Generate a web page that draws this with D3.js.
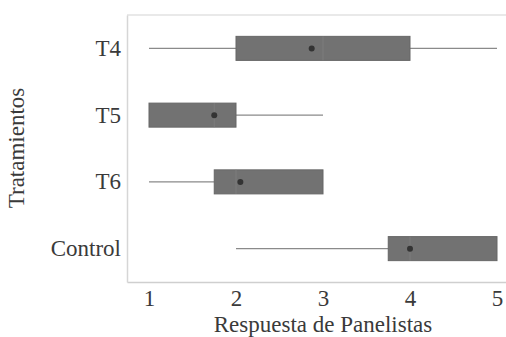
<!DOCTYPE html>
<html>
<head>
<meta charset="utf-8">
<script src="https://cdn.jsdelivr.net/npm/d3@7"></script>
</head>
<body style="margin:0">
<svg id="chart" width="506" height="337"></svg>
<script>
// Panel response per treatment (scale 1 to 5)
const categories = ["T4", "T5", "T6", "Control"];
const whiskerLow  = [1,    1,    1,    2];
const q1          = [2,    1,    1.75, 3.75];
const median      = [3,    1.75, 2,    4];
const q3          = [4,    2,    3,    5];
const whiskerHigh = [5,    3,    3,    5];
const means       = [2.87, 1.75, 2.05, 4];
const xTicks      = [1, 2, 3, 4, 5];

const data = categories.map((c, i) => ({
  cat: c, lo: whiskerLow[i], q1: q1[i], med: median[i], q3: q3[i], hi: whiskerHigh[i], mean: means[i]
}));

const TEXT = "#3a3a3a";
const W = 506;

const svg = d3.select("#chart");

// serif labels, set on each text node
function serif(sel) {
  sel.each(function () {
    this.setAttribute("font-family", "Liberation Serif");
    this.style.setProperty("font-family", "'Liberation Serif', 'Times New Roman', serif", "important");
    this.style.setProperty("font-size", "23px", "important");
    this.setAttribute("fill", TEXT);
  });
}

// 1 sits at x=149, 5 at x=497
const x = d3.scaleLinear().domain([1 - 22 / 87, 5 + 9 / 87]).range([127, 506]);
const y = d3.scaleBand().domain(categories).range([15, 282]).paddingInner(0.64).paddingOuter(0.32);

// light frame top line
svg.append("line").attr("x1", 127).attr("x2", W).attr("y1", 15).attr("y2", 15)
  .attr("stroke", "#e2e2e2").attr("stroke-width", 1.5);

const xAxis = svg.append("g").attr("transform", "translate(0,282)")
  .call(d3.axisBottom(x).tickValues(xTicks).tickFormat(d3.format("d")).tickSize(0).tickPadding(8));
xAxis.attr("font-family", null).attr("font-size", null);
xAxis.select(".domain").attr("stroke", "#cfcfcf").attr("stroke-width", 1.5);
serif(xAxis.selectAll("text"));

const yAxis = svg.append("g").attr("transform", "translate(127,0)")
  .call(d3.axisLeft(y).tickSize(0).tickPadding(6));
yAxis.attr("font-family", null).attr("font-size", null);
yAxis.select(".domain").attr("stroke", "#d6d6d6").attr("stroke-width", 1.5);
serif(yAxis.selectAll("text"));

const rows = svg.append("g").selectAll("g").data(data).join("g")
  .attr("transform", d => `translate(0,${y(d.cat) + y.bandwidth() / 2})`);

// whiskers
rows.append("line")
  .attr("x1", d => x(d.lo)).attr("x2", d => x(d.q1))
  .attr("stroke", "#8a8a8a").attr("stroke-width", 1.3);
rows.append("line")
  .attr("x1", d => x(d.q3)).attr("x2", d => x(d.hi))
  .attr("stroke", "#8a8a8a").attr("stroke-width", 1.3);

// boxes
rows.append("rect")
  .attr("x", d => x(d.q1)).attr("width", d => x(d.q3) - x(d.q1))
  .attr("y", -y.bandwidth() / 2).attr("height", y.bandwidth())
  .attr("fill", "#727272").attr("stroke", "#666").attr("stroke-width", 1);

// medians
rows.append("line")
  .attr("x1", d => x(d.med)).attr("x2", d => x(d.med))
  .attr("y1", -y.bandwidth() / 2).attr("y2", y.bandwidth() / 2)
  .attr("stroke", "#7c7c7c").attr("stroke-width", 1);

// means
rows.append("circle")
  .attr("cx", d => x(d.mean)).attr("r", 3)
  .attr("fill", "#333");

// axis titles
svg.append("text").attr("x", 323).attr("y", 332)
  .attr("text-anchor", "middle")
  .text("Respuesta de Panelistas")
  .call(serif);
svg.append("text").attr("transform", "translate(24,148) rotate(-90)")
  .attr("text-anchor", "middle")
  .text("Tratamientos")
  .call(serif);
</script>
</body>
</html>
